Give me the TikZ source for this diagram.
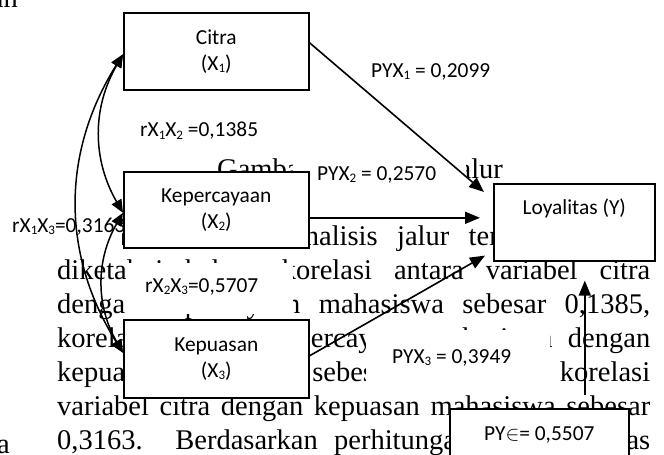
\documentclass[tikz,border=0pt]{standalone}
\usepackage{fontspec}
\setmainfont{Liberation Serif}
\newfontfamily\lab{Carlito}
\usetikzlibrary{arrows.meta,calc}
\tikzset{
  body/.style={anchor=base west, inner sep=0pt, font=\fontsize{28.5}{34}\selectfont},
  lbl/.style={anchor=west, inner sep=0pt, font=\lab\fontsize{21.4}{26}\selectfont},
  varbox/.style={draw, fill=white, line width=1.6pt, inner sep=0pt, anchor=north west,
    align=center, font=\lab\fontsize{21.4}{26}\selectfont},
  occl/.style={fill=white},
  link/.style={line width=1.6pt, -{Triangle[length=15pt,width=12pt]}},
  corr/.style={line width=1.5pt, {Triangle[length=13pt,width=11pt]}-{Triangle[length=13pt,width=11pt]}},
}
\newcommand{\jline}[1]{\makebox[593pt][s]{#1}}
\newcommand{\sbs}[1]{\raisebox{-0.1em}{\fontsize{13}{13}\selectfont #1}}
\begin{document}
\begin{tikzpicture}[x=1pt,y=-1pt]
\useasboundingbox (0,0) rectangle (664,455);
\clip (0,0) rectangle (664,455);
% background page text
\node[body, anchor=base east] (lc1) at (18,8) {an};
\node[body, anchor=base east] (lc2) at (10,453) {a};
\node[body] (head) at (217,178) {Gambar 2. Analisis Jalur};
\node[body] (l1) at (57,245) {\jline{Berdasarkan hasil analisis jalur tersebut, dapat}};
\node[body] (l2) at (57,279) {\jline{diketahui bahwa korelasi antara variabel citra}};
\node[body] (l3) at (57,313) {\jline{dengan kepercayaan mahasiswa sebesar 0,1385,}};
\node[body] (l4) at (57,347) {\jline{korelasi variabel kepercayaan mahasiswa dengan}};
\node[body] (l5) at (57,381) {\jline{kepuasan mahasiswa sebesar 0,5707, dan korelasi}};
\node[body] (l6) at (57,415) {\jline{variabel citra dengan kepuasan mahasiswa sebesar}};
\node[body] (l7) at (57,449) {\jline{0,3163.\ \ Berdasarkan perhitungan nilai loyalitas}};
% white text-box backgrounds of the labels
\fill[occl] (8,212) rectangle (122,252);
\fill[occl] (293,150) rectangle (466,196);
\fill[occl] (126,263) rectangle (293,314);
\fill[occl] (366,330) rectangle (550,389);
% coefficient labels
\node[lbl] (p1) at (371,72) {PYX\sbs{1} = 0,2099};
\node[lbl] (r12) at (140,131) {rX\sbs{1}X\sbs{2} =0,1385};
\node[lbl] (p2) at (317,175) {PYX\sbs{2} = 0,2570};
\node[lbl] (r13) at (12,227) {rX\sbs{1}X\sbs{3}=0,3163};
\node[lbl] (r23) at (145,287) {rX\sbs{2}X\sbs{3}=0,5707};
\node[lbl] (p3) at (392,358) {PYX\sbs{3} = 0,3949};
% variable boxes
\node[varbox, minimum width=185pt, minimum height=77pt] (cit) at (123,12) {Citra\\(X\sbs{1})};
\node[varbox, minimum width=185pt, minimum height=76pt] (kep) at (123,171) {Kepercayaan\\(X\sbs{2})};
\node[varbox, minimum width=185pt, minimum height=78pt] (kpu) at (123,319) {Kepuasan\\(X\sbs{3})};
\node[varbox, minimum width=161pt, minimum height=77pt] (loy) at (493,183) {};
\node[lbl, anchor=center] (loyt) at ($(loy.north)+(0,25)$) {Loyalitas (Y)};
\node[varbox, minimum width=179pt, minimum height=70pt] (py) at (449,408) {};
\node[lbl, anchor=center] (pyt) at ($(py.north)+(0,27)$) {PY$\in$= 0,5507};
% path arrows
\draw[link] ($(cit.east)+(0,-8.5)$) -- ($(loy.north west)+(-9,9)$);
\draw[link] ($(kep.east)+(0,8)$) -- ($(loy.west)+(-13,-4.5)$);
\draw[link] ($(kpu.east)+(0,-3)$) -- ($(loy.south west)+(-8,-6)$);
\coordinate (epsS) at ($(py.north)+(45.5,-13)$);
\draw[link] (epsS) -- ($(loy.south)+(10.5,19)$);
% correlation arcs
\coordinate (c1) at ($(cit.west)+(0,3)$);
\coordinate (c2) at ($(kep.west)+(0,3)$);
\coordinate (c3) at ($(kpu.west)+(0,-6)$);
\draw[corr] (c1) to[bend right=30] (c2);
\draw[corr] (c2) to[bend right=30] (c3);
\draw[corr] (c1) to[bend right=32] (c3);
\end{tikzpicture}
\end{document}
